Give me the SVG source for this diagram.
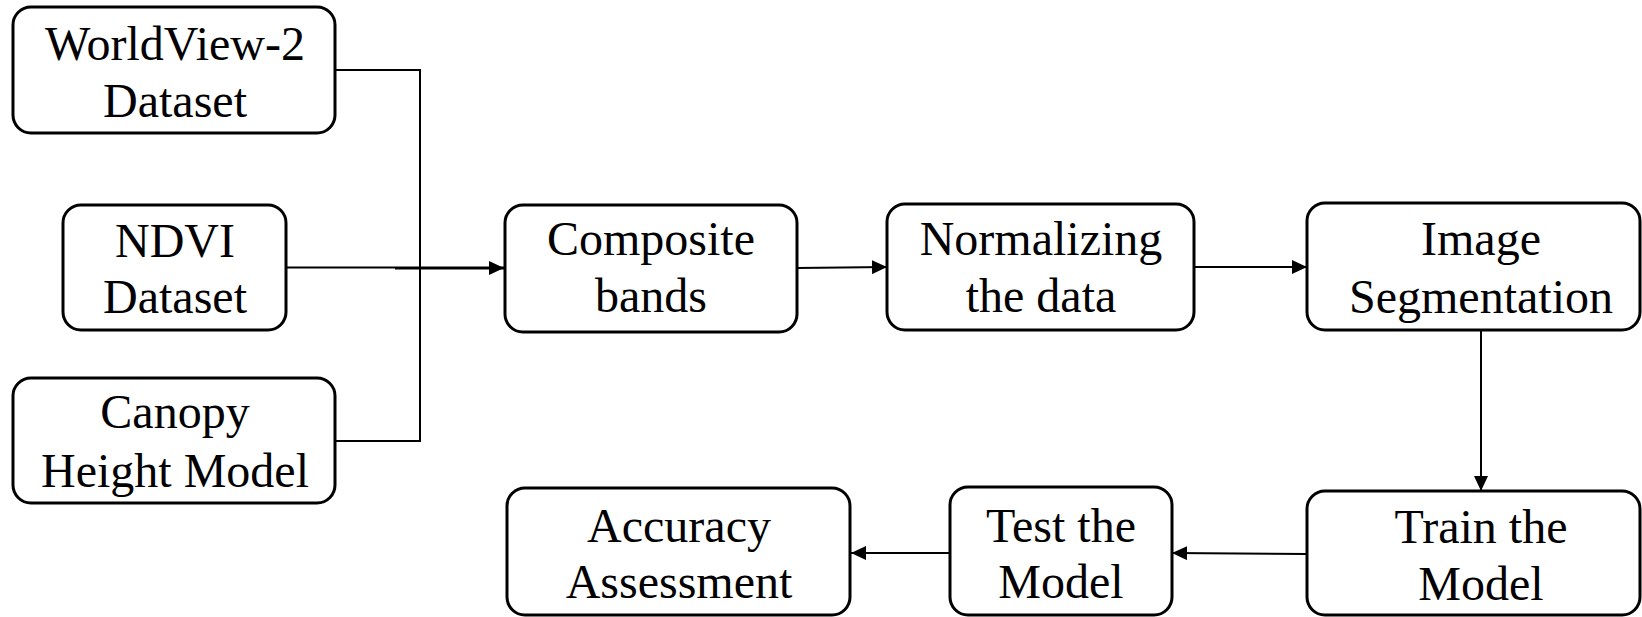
<svg xmlns="http://www.w3.org/2000/svg" width="1642" height="617" viewBox="0 0 1642 617">
<style>
.box{fill:#fff;stroke:#000;stroke-width:3}
.lbl{font-family:'Liberation Serif','Times New Roman',Times,'DejaVu Serif',serif;font-size:48px;fill:#000;text-anchor:middle}
.ln{fill:none;stroke:#000;stroke-width:2}
</style>
<defs>
<marker id="ah" markerUnits="userSpaceOnUse" viewBox="0 0 15 14" refX="15" refY="7" markerWidth="15" markerHeight="14" orient="auto">
<path d="M0,0 L15,7 L0,14 z" fill="#000"/>
</marker>
</defs>
<rect width="1642" height="617" fill="#fff"/>
<g id="connectors">
<path class="ln" d="M335,70 H420 V441 H335"/>
<path class="ln" d="M286,267.5 H395"/>
<path class="ln" style="stroke-width:3" d="M395,268 H504" marker-end="url(#ah)"/>
<path class="ln" d="M797,268 L887,267" marker-end="url(#ah)"/>
<path class="ln" d="M1194,267 H1307" marker-end="url(#ah)"/>
<path class="ln" d="M1481,330 V491" marker-end="url(#ah)"/>
<path class="ln" d="M1307,554 L1172,553" marker-end="url(#ah)"/>
<path class="ln" d="M950,553 H851" marker-end="url(#ah)"/>
</g>
<g id="n-worldview">
<rect class="box" x="13" y="7" width="322" height="126" rx="18"/>
<text class="lbl" x="175" y="60">WorldView-2</text>
<text class="lbl" x="175" y="117">Dataset</text>
</g>
<g id="n-ndvi">
<rect class="box" x="63" y="205" width="223" height="125" rx="18"/>
<text class="lbl" x="175" y="257">NDVI</text>
<text class="lbl" x="175" y="313">Dataset</text>
</g>
<g id="n-chm">
<rect class="box" x="13" y="378" width="322" height="125" rx="18"/>
<text class="lbl" x="175" y="428">Canopy</text>
<text class="lbl" x="175" y="487">Height Model</text>
</g>
<g id="n-composite">
<rect class="box" x="505" y="205" width="292" height="127" rx="18"/>
<text class="lbl" x="651" y="255">Composite</text>
<text class="lbl" x="651" y="312">bands</text>
</g>
<g id="n-normalize">
<rect class="box" x="887" y="204" width="307" height="126" rx="18"/>
<text class="lbl" x="1041" y="255">Normalizing</text>
<text class="lbl" x="1041" y="312">the data</text>
</g>
<g id="n-segment">
<rect class="box" x="1307" y="203" width="333" height="127" rx="18"/>
<text class="lbl" x="1481" y="255">Image</text>
<text class="lbl" x="1481" y="313">Segmentation</text>
</g>
<g id="n-train">
<rect class="box" x="1307" y="491" width="333" height="124" rx="18"/>
<text class="lbl" x="1481" y="543">Train the</text>
<text class="lbl" x="1481" y="600">Model</text>
</g>
<g id="n-test">
<rect class="box" x="950" y="487" width="222" height="128" rx="18"/>
<text class="lbl" x="1061" y="542">Test the</text>
<text class="lbl" x="1061" y="598">Model</text>
</g>
<g id="n-accuracy">
<rect class="box" x="507" y="488" width="343" height="127" rx="18"/>
<text class="lbl" x="679" y="542">Accuracy</text>
<text class="lbl" x="679" y="598">Assessment</text>
</g>
</svg>
